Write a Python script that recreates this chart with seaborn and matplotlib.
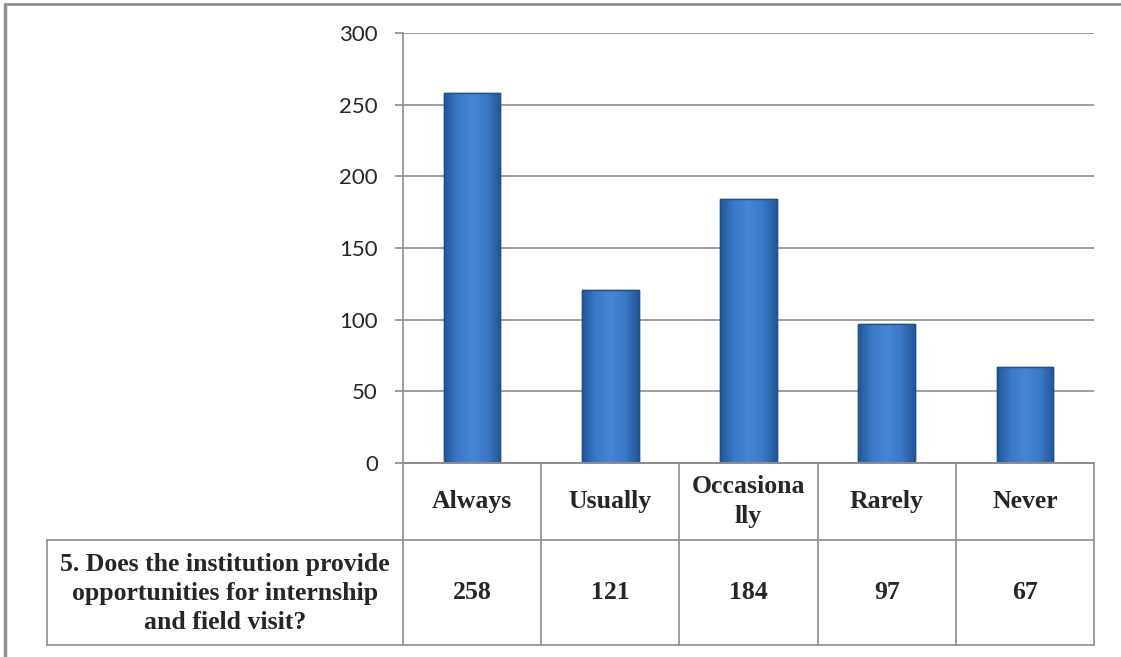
import numpy as np
import pandas as pd
import seaborn as sns
import matplotlib.pyplot as plt
from matplotlib.lines import Line2D
from matplotlib.colors import LinearSegmentedColormap

# data
categories = ['Always', 'Usually', 'Occasionally', 'Rarely', 'Never']
header_labels = ['Always', 'Usually', 'Occasiona\nlly', 'Rarely', 'Never']
counts = [258, 121, 184, 97, 67]
question = '5. Does the institution provide\nopportunities for internship\nand field visit?'
yticks = [0, 50, 100, 150, 200, 250, 300]

df = pd.DataFrame({'Response': categories, 'Count': counts})

W, H = 1121, 657
fig = plt.figure(figsize=(W / 100, H / 100), dpi=100)
sns.set_style('white')
plt.rcParams['font.family'] = ['Lato', 'DejaVu Sans']

def fx(px):
    return px / W

def fy(py):
    return 1 - py / H

x0, x1 = 403, 1094
y_top, y_zero = 33, 463
ax = fig.add_axes([fx(x0), fy(y_zero), fx(x1) - fx(x0), fy(y_top) - fy(y_zero)])

sns.barplot(data=df, x='Response', y='Count', ax=ax, color='#3e7dcc',
            width=0.41, edgecolor='#24568f', linewidth=1.0, saturation=1)

ax.set_ylim(0, 300)
ax.set_xlim(-0.5, 4.5)

# shaded look on the bars (darker sides, lighter middle)
cmap = LinearSegmentedColormap.from_list('bar', ['#23569a', '#3b79c7', '#4686d6', '#3b79c7', '#23569a'])
grad = np.linspace(0, 1, 256).reshape(1, -1)
for p in list(ax.patches):
    bx, by = p.get_x(), p.get_y()
    bw, bh = p.get_width(), p.get_height()
    im = ax.imshow(grad, cmap=cmap, aspect='auto', extent=[bx, bx + bw, by, by + bh], zorder=p.get_zorder() + 0.1)
    im.set_clip_path(p)
    ax.bar(bx + bw / 2, bh, width=bw, bottom=by, fill=False, edgecolor='#1f4f8c', linewidth=1.0, zorder=p.get_zorder() + 0.2)
ax.set_xlim(-0.5, 4.5)
ax.set_ylim(0, 300)

ax.set_yticks(yticks)
ax.set_yticklabels([str(v) for v in yticks], fontsize=16)
ax.set_xticks([])
ax.set_xlabel('')
ax.set_ylabel('')
ax.yaxis.grid(True, color='#8c8c8c', linewidth=1.2)
ax.set_axisbelow(True)
for s in ['top', 'right']:
    ax.spines[s].set_visible(False)
for s in ['left', 'bottom']:
    ax.spines[s].set_color('#8c8c8c')
    ax.spines[s].set_linewidth(1.2)
ax.tick_params(axis='y', length=6, width=1.2, color='#8c8c8c', pad=12, left=True)

# data table drawn below the plot
grey = '#8c8c8c'
row1_bot, row2_bot = 540, 645
left_cell = 47
col_w = (x1 - x0) / len(categories)

def hline(xa, xb, y):
    fig.add_artist(Line2D([fx(xa), fx(xb)], [fy(y), fy(y)], color=grey, lw=1.2))

def vline(x, ya, yb):
    fig.add_artist(Line2D([fx(x), fx(x)], [fy(ya), fy(yb)], color=grey, lw=1.2))

hline(x0, x1, y_zero)
hline(left_cell, x1, row1_bot)
hline(left_cell, x1, row2_bot)
vline(left_cell, row1_bot, row2_bot)
for i in range(len(categories) + 1):
    vline(x0 + i * col_w, y_zero, row2_bot)

tfont = dict(family='Liberation Serif', fontweight='bold', fontsize=18.5,
             ha='center', va='center', linespacing=1.35)
for i, (lab, val) in enumerate(zip(header_labels, counts)):
    cx = fx(x0 + (i + 0.5) * col_w)
    fig.text(cx, fy((y_zero + row1_bot) / 2), lab, **tfont)
    fig.text(cx, fy((row1_bot + row2_bot) / 2), str(val), **tfont)
fig.text(fx((left_cell + x0) / 2), fy((row1_bot + row2_bot) / 2 + 1), question, **tfont)

# outer frame (left and top edges)
fig.add_artist(Line2D([fx(5), fx(5)], [0, fy(4)], color='#909090', lw=2.5))
fig.add_artist(Line2D([fx(5), 1], [fy(4), fy(4)], color='#909090', lw=2))

fig.savefig('out.png', dpi=100, facecolor='white')
